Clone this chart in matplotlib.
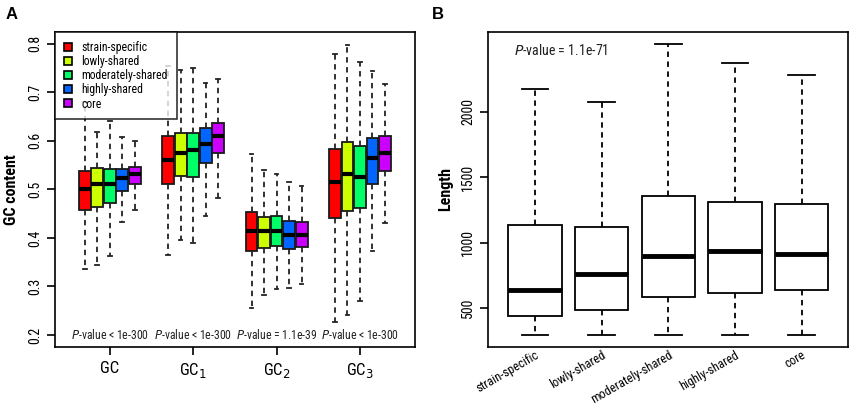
import matplotlib
matplotlib.use("Agg")
import matplotlib.pyplot as plt
from matplotlib.patches import Patch

plt.rcParams['font.family'] = ['Roboto Condensed', 'Liberation Sans', 'DejaVu Sans']

# ---------------------------------------------------------------------
# Data: [whisker low, q1, median, q3, whisker high]
# ---------------------------------------------------------------------
groups = ["strain-specific", "lowly-shared", "moderately-shared", "highly-shared", "core"]
colors = ["#FF0000", "#CCFF00", "#00FF66", "#0066FF", "#CC00FF"]

regions = ["GC", "GC$_1$", "GC$_2$", "GC$_3$"]
pvalues_a = ["< 1e-300", "< 1e-300", "= 1.1e-39", "< 1e-300"]

gc_stats = [
	[0.336, 0.457, 0.501, 0.538, 0.680],
	[0.345, 0.464, 0.511, 0.543, 0.618],
	[0.363, 0.471, 0.511, 0.541, 0.640],
	[0.432, 0.497, 0.523, 0.541, 0.608],
	[0.458, 0.512, 0.532, 0.547, 0.599],
]
gc1_stats = [
	[0.364, 0.511, 0.561, 0.610, 0.753],
	[0.395, 0.527, 0.575, 0.616, 0.745],
	[0.390, 0.526, 0.580, 0.616, 0.750],
	[0.446, 0.555, 0.593, 0.627, 0.718],
	[0.483, 0.574, 0.610, 0.637, 0.728],
]
gc2_stats = [
	[0.255, 0.373, 0.415, 0.453, 0.572],
	[0.282, 0.380, 0.415, 0.443, 0.539],
	[0.295, 0.384, 0.415, 0.446, 0.531],
	[0.296, 0.378, 0.406, 0.434, 0.515],
	[0.306, 0.381, 0.406, 0.432, 0.506],
]
gc3_stats = [
	[0.226, 0.441, 0.516, 0.584, 0.778],
	[0.241, 0.455, 0.532, 0.598, 0.797],
	[0.271, 0.462, 0.525, 0.590, 0.762],
	[0.374, 0.512, 0.564, 0.605, 0.743],
	[0.430, 0.538, 0.574, 0.610, 0.716],
]

length_stats = [
	[294, 436, 635, 1131, 2173],
	[297, 487, 762, 1120, 2076],
	[297, 581, 897, 1354, 2521],
	[297, 612, 937, 1314, 2371],
	[297, 640, 914, 1298, 2280],
]
pvalue_b = "= 1.1e-71"


def to_bxp(rows):
	out = []
	for lo, q1, med, q3, hi in rows:
		out.append({"whislo": lo, "q1": q1, "med": med, "q3": q3, "whishi": hi, "fliers": []})
	return out


def r_style(ax):
	for s in ax.spines.values():
		s.set_linewidth(1.2)
	ax.tick_params(direction="out", length=6, width=1.2, labelsize=10)
	for lab in ax.get_yticklabels():
		lab.set_rotation(90)
		lab.set_va("center")


fig = plt.figure(figsize=(8.51, 4.07), dpi=100)

# ---------------------------------------------------------------------
# Panel A
# ---------------------------------------------------------------------
ax1 = fig.add_axes([0.0646, 0.1474, 0.4231, 0.774])
group_gap = 6.67
all_stats = [gc_stats, gc1_stats, gc2_stats, gc3_stats]
for gi, rows in enumerate(all_stats):
	pos = [gi * group_gap + k - 2 for k in range(5)]
	bp = ax1.bxp(to_bxp(rows), positions=pos, widths=0.95, patch_artist=True,
		showfliers=False,
		boxprops=dict(linewidth=1.3, edgecolor="#1a1a1a"),
		medianprops=dict(color="black", linewidth=3, solid_capstyle="butt"),
		whiskerprops=dict(linestyle=(0, (3, 2.5)), linewidth=1.3, color="#222222"),
		capprops=dict(linewidth=1.3, color="#222222"),
		capwidths=0.3)
	for patch, c in zip(bp["boxes"], colors):
		patch.set_facecolor(c)
	ax1.text(gi * group_gap, 0.199, "$\\it{P}$-value " + pvalues_a[gi],
		ha="center", va="center", fontsize=8.5, color="#222222")

ax1.set_xlim(-4.37, 3 * group_gap + 4.4)
ax1.set_ylim(0.1753, 0.824)
ax1.set_yticks([0.2, 0.3, 0.4, 0.5, 0.6, 0.7, 0.8])
ax1.set_xticks([gi * group_gap for gi in range(4)])
ax1.set_xticklabels(regions)
ax1.set_ylabel("GC content", fontsize=11.5, fontweight="bold", labelpad=6)
r_style(ax1)
ax1.tick_params(axis="x", labelsize=12, pad=4)

handles = [Patch(facecolor=c, edgecolor="black", linewidth=1.2) for c in colors]
leg = ax1.legend(handles, groups, loc="upper left", bbox_to_anchor=(0, 1),
	fontsize=8.5, frameon=True, fancybox=False, borderaxespad=0,
	handlelength=0.65, handleheight=0.65, handletextpad=0.85,
	labelspacing=0.1, borderpad=0.75)
leg.get_frame().set_edgecolor("black")
leg.get_frame().set_linewidth(1.2)

# ---------------------------------------------------------------------
# Panel B
# ---------------------------------------------------------------------
ax2 = fig.add_axes([0.5738, 0.1474, 0.4231, 0.774])
ax2.bxp(to_bxp(length_stats), positions=range(1, 6), widths=0.8,
	patch_artist=True, showfliers=False,
	boxprops=dict(linewidth=1.3, edgecolor="black", facecolor="white"),
	medianprops=dict(color="black", linewidth=3.5, solid_capstyle="butt"),
	whiskerprops=dict(linestyle=(0, (3, 2.5)), linewidth=1.3, color="black"),
	capprops=dict(linewidth=1.3, color="black"),
	capwidths=0.4)
ax2.set_xlim(0.3, 5.7)
ax2.set_ylim(202, 2610)
ax2.set_yticks([500, 1000, 1500, 2000])
ax2.set_xticks(range(1, 6))
ax2.set_xticklabels(groups, rotation=30, ha="right", rotation_mode="anchor")
ax2.set_ylabel("Length", fontsize=11.5, fontweight="bold", labelpad=6)
r_style(ax2)
ax2.tick_params(axis="x", length=0, labelsize=9, pad=1)
ax2.text(0.68, 2465, "$\\it{P}$-value " + pvalue_b, ha="left", va="center",
	fontsize=10, color="#222222")

fig.text(0.006, 0.964, "A", fontsize=12, fontweight="bold", va="center",
	family=["Liberation Sans", "DejaVu Sans"])
fig.text(0.508, 0.964, "B", fontsize=12, fontweight="bold", va="center",
	family=["Liberation Sans", "DejaVu Sans"])

fig.savefig("out.png", dpi=100)
